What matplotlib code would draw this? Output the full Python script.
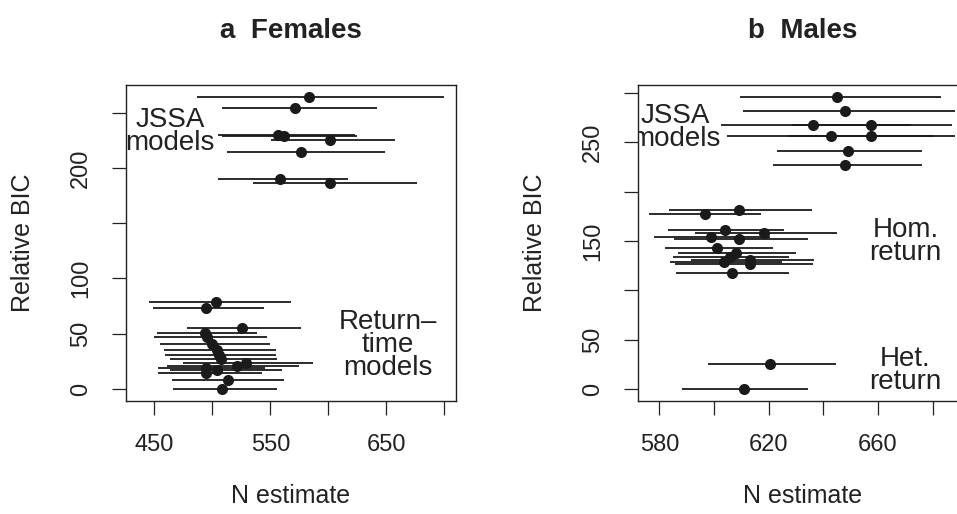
import matplotlib
matplotlib.use("Agg")
import matplotlib.pyplot as plt

plt.rcParams['font.family'] = ['Liberation Sans', 'DejaVu Sans']

# ---------------- Panel a: Females ----------------
fem_jssa_n   = [583.4, 571.6, 556.9, 561.8, 601.5, 576.7, 558.4, 601.5]
fem_jssa_bic = [264.0, 254.5, 229.4, 229.0, 225.5, 214.4, 190.3, 186.4]
fem_jssa_lo  = [486.5, 508.1, 505.2, 508.0, 550.3, 512.9, 505.2, 534.8]
fem_jssa_hi  = [699.8, 642.2, 623.0, 625.0, 657.5, 648.9, 617.2, 676.2]

fem_rt_n   = [503.2, 494.6, 525.3, 494.0, 495.7, 499.7, 503.8, 505.8, 507.8,
              529.0, 521.0, 494.6, 494.6, 504.3, 513.8, 508.1]
fem_rt_bic = [78.9, 73.4, 54.8, 50.9, 47.2, 40.7, 35.2, 30.7, 26.8,
              23.8, 20.8, 18.7, 14.2, 17.2, 8.1, 0.0]
fem_rt_lo  = [445.7, 449.1, 478.4, 452.1, 449.7, 454.9, 458.4, 459.3, 463.5,
              475.0, 460.7, 453.4, 453.4, 463.5, 465.0, 465.9]
fem_rt_hi  = [567.6, 544.6, 576.7, 538.8, 546.9, 549.7, 554.9, 554.9, 555.5,
              587.1, 574.5, 545.4, 543.0, 559.8, 561.8, 555.5]

# ---------------- Panel b: Males ----------------
mal_jssa_n   = [644.9, 648.0, 636.3, 657.4, 642.7, 657.4, 648.9, 648.0]
mal_jssa_bic = [295.6, 281.1, 267.7, 267.7, 255.9, 255.9, 240.7, 226.6]
mal_jssa_lo  = [609.5, 610.7, 602.6, 628.5, 604.6, 627.2, 622.9, 621.4]
mal_jssa_hi  = [683.0, 688.1, 672.1, 686.9, 680.2, 688.2, 675.9, 675.9]

mal_hom_n   = [596.7, 609.2, 604.1, 618.4, 598.8, 609.3, 601.2, 608.0, 605.7,
               603.5, 613.3, 613.3, 606.5]
mal_hom_bic = [177.8, 181.1, 160.9, 158.6, 154.1, 152.5, 143.0, 138.0, 134.0,
               128.9, 130.6, 126.6, 117.2]
mal_hom_lo  = [576.2, 583.7, 583.3, 593.1, 577.9, 585.5, 582.1, 587.0, 585.1,
               584.0, 591.6, 585.7, 586.1]
mal_hom_hi  = [617.3, 635.8, 625.6, 645.1, 620.3, 634.2, 621.5, 630.0, 627.6,
               624.8, 636.6, 636.2, 627.6]

mal_het_n   = [620.3, 610.9]
mal_het_bic = [25.3, 0.0]
mal_het_lo  = [597.7, 588.2]
mal_het_hi  = [644.5, 634.5]

titles = ["a  Females", "b  Males"]
xlabel = "N estimate"
ylabel = "Relative BIC"

fem_xticks = [450, 500, 550, 600, 650, 700]
fem_xticklabels = ["450", "", "550", "", "650", ""]
fem_yticks = [0, 50, 100, 150, 200, 250]
fem_yticklabels = ["0", "50", "100", "", "200", ""]

mal_xticks = [580, 600, 620, 640, 660, 680]
mal_xticklabels = ["580", "", "620", "", "660", ""]
mal_yticks = [0, 50, 100, 150, 200, 250, 300]
mal_yticklabels = ["0", "50", "", "150", "", "250", ""]

W, H = 957, 514
fig = plt.figure(figsize=(W / 100, H / 100), dpi=100)
fig.patch.set_facecolor("white")

axw = 330.6 / W
axh = 315.7 / H
bot = 1 - 400.7 / H
axA = fig.add_axes([125.7 / W, bot, axw, axh])
axB = fig.add_axes([637.7 / W, bot, axw, axh])

LINE_C = "#1a1a1a"
MS = 8.0
LW = 1.3


def draw(ax, groups):
    for n, b, lo, hi in groups:
        ax.hlines(b, lo, hi, colors=LINE_C, linewidth=LW, zorder=2)
        ax.plot(n, b, "o", color=LINE_C, markersize=MS, markeredgewidth=0, zorder=3)


draw(axA, [(fem_jssa_n, fem_jssa_bic, fem_jssa_lo, fem_jssa_hi),
           (fem_rt_n, fem_rt_bic, fem_rt_lo, fem_rt_hi)])
draw(axB, [(mal_jssa_n, mal_jssa_bic, mal_jssa_lo, mal_jssa_hi),
           (mal_hom_n, mal_hom_bic, mal_hom_lo, mal_hom_hi),
           (mal_het_n, mal_het_bic, mal_het_lo, mal_het_hi)])

axA.set_xlim(425.3, 710.3)
axA.set_ylim(-10.6, 275.0)
axB.set_xlim(572.1, 693.0)
axB.set_ylim(-11.5, 307.8)

TICK_FS = 17
LAB_FS = 18
ANN_FS = 20

for ax, xt, xtl, yt, ytl, title in [
        (axA, fem_xticks, fem_xticklabels, fem_yticks, fem_yticklabels, titles[0]),
        (axB, mal_xticks, mal_xticklabels, mal_yticks, mal_yticklabels, titles[1])]:
    ax.set_xticks(xt)
    ax.set_xticklabels(xtl)
    ax.set_yticks(yt)
    ax.set_yticklabels(ytl, rotation=90, va="center")
    ax.tick_params(direction="out", length=10, width=0.9, color="#222222",
                   labelsize=TICK_FS, pad=14, labelcolor="#222222")
    for s in ax.spines.values():
        s.set_linewidth(1.0)
        s.set_color("#222222")
    ax.set_xlabel(xlabel, fontsize=LAB_FS, color="#222222", va="center")
    ax.xaxis.set_label_coords(0.5, (400.7 - 496) / 315.7)
    ax.set_ylabel(ylabel, fontsize=LAB_FS, color="#222222", va="center")
    ax.yaxis.set_label_coords((23 - 125.7) / 330.6, 0.5)
    ax.set_title(title, fontsize=20, fontweight="bold", color="#222222",
                 y=(400.7 - 31) / 315.7, va="center", pad=0)

axA.text(463.5, 233, "JSSA\nmodels", ha="center", va="center", fontsize=ANN_FS,
         color="#222222", linespacing=0.85, clip_on=True)
axA.text(651, 40, "Return–\ntime\nmodels", ha="center", va="center", fontsize=ANN_FS,
         color="#222222", linespacing=0.85, clip_on=True)
axB.text(586, 265, "JSSA\nmodels", ha="center", va="center", fontsize=ANN_FS,
         color="#222222", linespacing=0.85, clip_on=True)
axB.text(670, 150, "Hom.\nreturn", ha="center", va="center", fontsize=ANN_FS,
         color="#222222", linespacing=0.85, clip_on=True)
axB.text(670, 19.5, "Het.\nreturn", ha="center", va="center", fontsize=ANN_FS,
         color="#222222", linespacing=0.85, clip_on=True)

fig.savefig("out.png", dpi=100, facecolor="white")
